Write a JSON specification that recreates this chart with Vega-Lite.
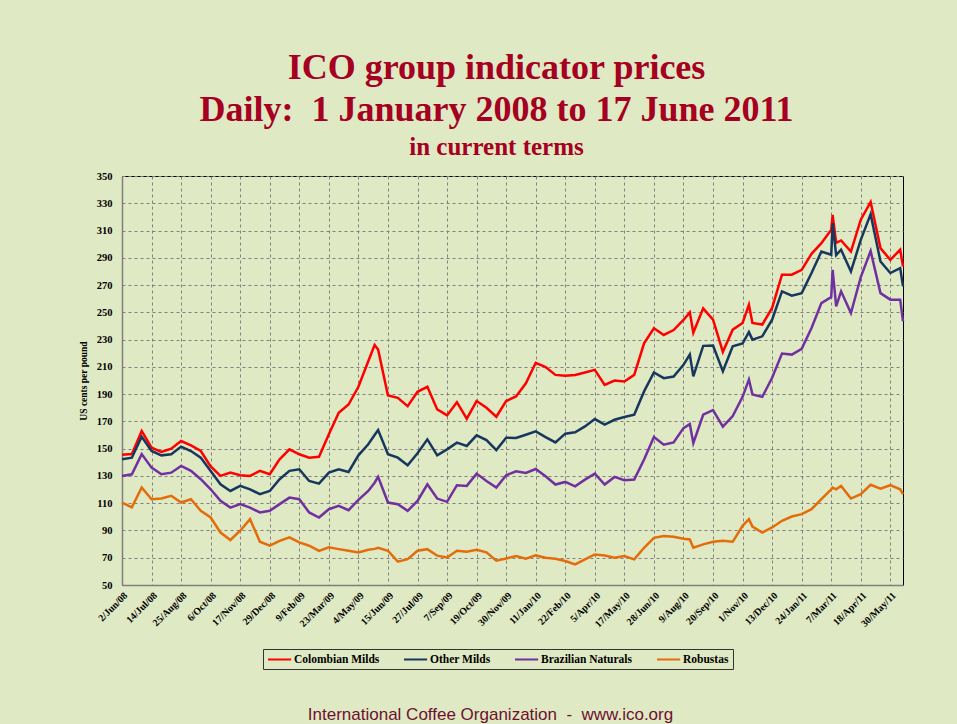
{
  "$schema": "https://vega.github.io/schema/vega-lite/v6.json",
  "width": 781,
  "height": 409,
  "autosize": {"type": "none"},
  "padding": {"left": 122, "top": 176, "right": 54, "bottom": 139},
  "background": "#DFE9C3",
  "title": {
    "text": ["ICO group indicator prices", "Daily:\u00a0\u00a01 January 2008 to 17 June 2011"],
    "subtitle": "in current terms",
    "font": "Liberation Serif",
    "fontSize": 36,
    "fontWeight": "bold",
    "color": "#A50021",
    "lineHeight": 42,
    "subtitleFont": "Liberation Serif",
    "subtitleFontSize": 25,
    "subtitleFontWeight": "bold",
    "subtitleColor": "#A50021",
    "subtitlePadding": 6,
    "anchor": "middle",
    "dx": -16,
    "offset": 10
  },
  "datasets": {
    "colombian": [
      {"d":"2008-06-02","v":145.5},{"d":"2008-06-16","v":146},{"d":"2008-06-30","v":163},{"d":"2008-07-14","v":150.7},{"d":"2008-07-28","v":147.6},{"d":"2008-08-11","v":150},{"d":"2008-08-25","v":155.6},{"d":"2008-09-08","v":152.4},{"d":"2008-09-22","v":148.3},{"d":"2008-10-06","v":137},{"d":"2008-10-20","v":130},{"d":"2008-11-03","v":132.4},{"d":"2008-11-17","v":130.5},{"d":"2008-12-01","v":130},{"d":"2008-12-15","v":133.7},{"d":"2008-12-29","v":131.2},{"d":"2009-01-12","v":142.2},{"d":"2009-01-26","v":149.5},{"d":"2009-02-09","v":145.9},{"d":"2009-02-23","v":143.4},{"d":"2009-03-09","v":144},{"d":"2009-03-23","v":160.5},{"d":"2009-04-06","v":176.3},{"d":"2009-04-20","v":182.4},{"d":"2009-05-04","v":195.4},{"d":"2009-05-18","v":214.1},{"d":"2009-05-27","v":226},{"d":"2009-06-01","v":222.7},{"d":"2009-06-15","v":189},{"d":"2009-06-29","v":187.3},{"d":"2009-07-13","v":181.2},{"d":"2009-07-27","v":191.7},{"d":"2009-08-10","v":195.4},{"d":"2009-08-24","v":178.8},{"d":"2009-09-07","v":174.4},{"d":"2009-09-21","v":184.1},{"d":"2009-10-05","v":172},{"d":"2009-10-19","v":184.9},{"d":"2009-11-02","v":180},{"d":"2009-11-16","v":173.4},{"d":"2009-11-30","v":184.9},{"d":"2009-12-14","v":188.3},{"d":"2009-12-28","v":198},{"d":"2010-01-11","v":213},{"d":"2010-01-25","v":209.8},{"d":"2010-02-08","v":204.1},{"d":"2010-02-22","v":203.4},{"d":"2010-03-08","v":204.1},{"d":"2010-03-22","v":205.9},{"d":"2010-04-05","v":207.8},{"d":"2010-04-19","v":196.8},{"d":"2010-05-03","v":200},{"d":"2010-05-17","v":199.3},{"d":"2010-05-31","v":204.1},{"d":"2010-06-14","v":227.3},{"d":"2010-06-28","v":238.3},{"d":"2010-07-12","v":233.4},{"d":"2010-07-26","v":237},{"d":"2010-08-09","v":244.4},{"d":"2010-08-18","v":250},{"d":"2010-08-23","v":235},{"d":"2010-09-06","v":252.9},{"d":"2010-09-20","v":244.6},{"d":"2010-10-04","v":221},{"d":"2010-10-18","v":237.3},{"d":"2010-11-01","v":242.2},{"d":"2010-11-10","v":255.6},{"d":"2010-11-15","v":242.2},{"d":"2010-11-29","v":241},{"d":"2010-12-13","v":253.2},{"d":"2010-12-27","v":277.6},{"d":"2011-01-10","v":277.6},{"d":"2011-01-24","v":281.2},{"d":"2011-02-07","v":292.9},{"d":"2011-02-21","v":300.7},{"d":"2011-03-07","v":310.5},{"d":"2011-03-09","v":321.5},{"d":"2011-03-14","v":301},{"d":"2011-03-21","v":302.7},{"d":"2011-04-04","v":294.6},{"d":"2011-04-18","v":318},{"d":"2011-05-02","v":331},{"d":"2011-05-16","v":297.1},{"d":"2011-05-30","v":288.5},{"d":"2011-06-13","v":295.9},{"d":"2011-06-17","v":283.7}
    ],
    "other": [
      {"d":"2008-06-02","v":142.2},{"d":"2008-06-16","v":143.4},{"d":"2008-06-30","v":158.8},{"d":"2008-07-14","v":148.3},{"d":"2008-07-28","v":145.1},{"d":"2008-08-11","v":145.9},{"d":"2008-08-25","v":151.5},{"d":"2008-09-08","v":148.3},{"d":"2008-09-22","v":143.4},{"d":"2008-10-06","v":133.7},{"d":"2008-10-20","v":123.9},{"d":"2008-11-03","v":119},{"d":"2008-11-17","v":122.7},{"d":"2008-12-01","v":120.2},{"d":"2008-12-15","v":116.6},{"d":"2008-12-29","v":119},{"d":"2009-01-12","v":127.6},{"d":"2009-01-26","v":133.7},{"d":"2009-02-09","v":134.9},{"d":"2009-02-23","v":126.3},{"d":"2009-03-09","v":124.3},{"d":"2009-03-23","v":132.4},{"d":"2009-04-06","v":134.9},{"d":"2009-04-20","v":132.9},{"d":"2009-05-04","v":145.1},{"d":"2009-05-18","v":153.2},{"d":"2009-05-27","v":160},{"d":"2009-06-01","v":163.7},{"d":"2009-06-15","v":145.9},{"d":"2009-06-29","v":143.4},{"d":"2009-07-13","v":137.8},{"d":"2009-07-27","v":146.6},{"d":"2009-08-10","v":156.8},{"d":"2009-08-24","v":145.1},{"d":"2009-09-07","v":149.5},{"d":"2009-09-21","v":154.4},{"d":"2009-10-05","v":152},{"d":"2009-10-19","v":159.8},{"d":"2009-11-02","v":156.3},{"d":"2009-11-16","v":149},{"d":"2009-11-30","v":158},{"d":"2009-12-14","v":157.8},{"d":"2009-12-28","v":160.2},{"d":"2010-01-11","v":162.7},{"d":"2010-01-25","v":158.5},{"d":"2010-02-08","v":154.6},{"d":"2010-02-22","v":161},{"d":"2010-03-08","v":162},{"d":"2010-03-22","v":166.3},{"d":"2010-04-05","v":171.7},{"d":"2010-04-19","v":167.6},{"d":"2010-05-03","v":171.2},{"d":"2010-05-17","v":173.2},{"d":"2010-05-31","v":174.9},{"d":"2010-06-14","v":192},{"d":"2010-06-28","v":205.9},{"d":"2010-07-12","v":201.7},{"d":"2010-07-26","v":202.9},{"d":"2010-08-09","v":211.5},{"d":"2010-08-18","v":219},{"d":"2010-08-23","v":203},{"d":"2010-09-06","v":225.4},{"d":"2010-09-20","v":225.6},{"d":"2010-10-04","v":206.8},{"d":"2010-10-18","v":225.1},{"d":"2010-11-01","v":227.1},{"d":"2010-11-10","v":235.5},{"d":"2010-11-15","v":230},{"d":"2010-11-29","v":232.4},{"d":"2010-12-13","v":244.6},{"d":"2010-12-27","v":265.4},{"d":"2011-01-10","v":262.2},{"d":"2011-01-24","v":264.1},{"d":"2011-02-07","v":278.8},{"d":"2011-02-21","v":294.6},{"d":"2011-03-07","v":292.2},{"d":"2011-03-09","v":315.4},{"d":"2011-03-14","v":292},{"d":"2011-03-21","v":295.9},{"d":"2011-04-04","v":280},{"d":"2011-04-18","v":303.2},{"d":"2011-05-02","v":322},{"d":"2011-05-16","v":287.3},{"d":"2011-05-30","v":278.8},{"d":"2011-06-13","v":282.4},{"d":"2011-06-17","v":269}
    ],
    "brazilian": [
      {"d":"2008-06-02","v":130},{"d":"2008-06-16","v":131.2},{"d":"2008-06-30","v":146},{"d":"2008-07-14","v":136.1},{"d":"2008-07-28","v":131.2},{"d":"2008-08-11","v":132.4},{"d":"2008-08-25","v":137.3},{"d":"2008-09-08","v":133.7},{"d":"2008-09-22","v":127.6},{"d":"2008-10-06","v":120.2},{"d":"2008-10-20","v":111.7},{"d":"2008-11-03","v":106.8},{"d":"2008-11-17","v":109.3},{"d":"2008-12-01","v":106.8},{"d":"2008-12-15","v":103.2},{"d":"2008-12-29","v":104.4},{"d":"2009-01-12","v":109.3},{"d":"2009-01-26","v":114.1},{"d":"2009-02-09","v":112.9},{"d":"2009-02-23","v":103.2},{"d":"2009-03-09","v":99.5},{"d":"2009-03-23","v":105.6},{"d":"2009-04-06","v":108},{"d":"2009-04-20","v":104.9},{"d":"2009-05-04","v":112.4},{"d":"2009-05-18","v":119},{"d":"2009-05-27","v":125},{"d":"2009-06-01","v":129.3},{"d":"2009-06-15","v":110.5},{"d":"2009-06-29","v":109.3},{"d":"2009-07-13","v":104.4},{"d":"2009-07-27","v":111.7},{"d":"2009-08-10","v":123.9},{"d":"2009-08-24","v":113.4},{"d":"2009-09-07","v":111},{"d":"2009-09-21","v":123.2},{"d":"2009-10-05","v":122.7},{"d":"2009-10-19","v":131.7},{"d":"2009-11-02","v":126.3},{"d":"2009-11-16","v":121.5},{"d":"2009-11-30","v":130.5},{"d":"2009-12-14","v":133.4},{"d":"2009-12-28","v":132.2},{"d":"2010-01-11","v":135.1},{"d":"2010-01-25","v":129.8},{"d":"2010-02-08","v":123.7},{"d":"2010-02-22","v":125.6},{"d":"2010-03-08","v":122.4},{"d":"2010-03-22","v":127.3},{"d":"2010-04-05","v":131.7},{"d":"2010-04-19","v":123.7},{"d":"2010-05-03","v":129.3},{"d":"2010-05-17","v":126.8},{"d":"2010-05-31","v":127.3},{"d":"2010-06-14","v":142},{"d":"2010-06-28","v":158.5},{"d":"2010-07-12","v":152.9},{"d":"2010-07-26","v":154.6},{"d":"2010-08-09","v":165.1},{"d":"2010-08-18","v":168},{"d":"2010-08-23","v":154},{"d":"2010-09-06","v":174.9},{"d":"2010-09-20","v":178.3},{"d":"2010-10-04","v":166.1},{"d":"2010-10-18","v":173.9},{"d":"2010-11-01","v":188},{"d":"2010-11-10","v":200.7},{"d":"2010-11-15","v":189.8},{"d":"2010-11-29","v":188},{"d":"2010-12-13","v":202},{"d":"2010-12-27","v":219.8},{"d":"2011-01-10","v":219},{"d":"2011-01-24","v":223.2},{"d":"2011-02-07","v":238.5},{"d":"2011-02-21","v":256.8},{"d":"2011-03-07","v":261.2},{"d":"2011-03-09","v":281.2},{"d":"2011-03-14","v":254.4},{"d":"2011-03-21","v":265.4},{"d":"2011-04-04","v":249.5},{"d":"2011-04-18","v":275.9},{"d":"2011-05-02","v":295},{"d":"2011-05-16","v":264.1},{"d":"2011-05-30","v":259.3},{"d":"2011-06-13","v":259.3},{"d":"2011-06-17","v":243.4}
    ],
    "robustas": [
      {"d":"2008-06-02","v":110.5},{"d":"2008-06-16","v":107},{"d":"2008-06-30","v":121.5},{"d":"2008-07-14","v":112.9},{"d":"2008-07-28","v":113.4},{"d":"2008-08-11","v":115.4},{"d":"2008-08-25","v":110.5},{"d":"2008-09-08","v":112.9},{"d":"2008-09-22","v":104.4},{"d":"2008-10-06","v":99.5},{"d":"2008-10-20","v":88.5},{"d":"2008-11-03","v":83},{"d":"2008-11-17","v":89.8},{"d":"2008-12-01","v":98.3},{"d":"2008-12-15","v":81.7},{"d":"2008-12-29","v":78.8},{"d":"2009-01-12","v":82.4},{"d":"2009-01-26","v":84.9},{"d":"2009-02-09","v":81.2},{"d":"2009-02-23","v":78.8},{"d":"2009-03-09","v":75},{"d":"2009-03-23","v":77.6},{"d":"2009-04-06","v":76.3},{"d":"2009-04-20","v":75.1},{"d":"2009-05-04","v":73.9},{"d":"2009-05-18","v":75.9},{"d":"2009-05-27","v":76.5},{"d":"2009-06-01","v":77.3},{"d":"2009-06-15","v":75.1},{"d":"2009-06-29","v":67.1},{"d":"2009-07-13","v":69},{"d":"2009-07-27","v":75.1},{"d":"2009-08-10","v":76.3},{"d":"2009-08-24","v":71.5},{"d":"2009-09-07","v":70.2},{"d":"2009-09-21","v":75.1},{"d":"2009-10-05","v":74.4},{"d":"2009-10-19","v":75.9},{"d":"2009-11-02","v":73.9},{"d":"2009-11-16","v":67.8},{"d":"2009-11-30","v":69.5},{"d":"2009-12-14","v":71.2},{"d":"2009-12-28","v":69.3},{"d":"2010-01-11","v":71.7},{"d":"2010-01-25","v":70},{"d":"2010-02-08","v":69.3},{"d":"2010-02-22","v":67.6},{"d":"2010-03-08","v":65.1},{"d":"2010-03-22","v":68.8},{"d":"2010-04-05","v":72.4},{"d":"2010-04-19","v":71.7},{"d":"2010-05-03","v":70},{"d":"2010-05-17","v":71.2},{"d":"2010-05-31","v":68.8},{"d":"2010-06-14","v":77.3},{"d":"2010-06-28","v":84.6},{"d":"2010-07-12","v":85.9},{"d":"2010-07-26","v":85.4},{"d":"2010-08-09","v":83.9},{"d":"2010-08-18","v":83.4},{"d":"2010-08-23","v":77.3},{"d":"2010-09-06","v":79.8},{"d":"2010-09-20","v":81.7},{"d":"2010-10-04","v":82.4},{"d":"2010-10-18","v":81.7},{"d":"2010-11-01","v":93.4},{"d":"2010-11-10","v":98.3},{"d":"2010-11-15","v":92.9},{"d":"2010-11-29","v":88.5},{"d":"2010-12-13","v":92.2},{"d":"2010-12-27","v":97.1},{"d":"2011-01-10","v":100.2},{"d":"2011-01-24","v":102},{"d":"2011-02-07","v":105.6},{"d":"2011-02-21","v":113},{"d":"2011-03-07","v":120.2},{"d":"2011-03-09","v":121.5},{"d":"2011-03-14","v":120.2},{"d":"2011-03-21","v":122.7},{"d":"2011-04-04","v":113.4},{"d":"2011-04-18","v":116.6},{"d":"2011-05-02","v":123.5},{"d":"2011-05-16","v":120.7},{"d":"2011-05-30","v":123.2},{"d":"2011-06-13","v":120.2},{"d":"2011-06-17","v":116.6}
    ]
  },
  "encoding": {
    "x": {
      "field": "d",
      "type": "temporal",
      "scale": {
        "type": "utc",
        "domain": [
          {"year": 2008, "month": 6, "date": 2, "utc": true},
          {"year": 2011, "month": 6, "date": 17, "utc": true}
        ]
      },
      "axis": {
        "values": [
          {"year":2008,"month":6,"date":2,"utc":true},{"year":2008,"month":7,"date":14,"utc":true},{"year":2008,"month":8,"date":25,"utc":true},{"year":2008,"month":10,"date":6,"utc":true},{"year":2008,"month":11,"date":17,"utc":true},{"year":2008,"month":12,"date":29,"utc":true},{"year":2009,"month":2,"date":9,"utc":true},{"year":2009,"month":3,"date":23,"utc":true},{"year":2009,"month":5,"date":4,"utc":true},{"year":2009,"month":6,"date":15,"utc":true},{"year":2009,"month":7,"date":27,"utc":true},{"year":2009,"month":9,"date":7,"utc":true},{"year":2009,"month":10,"date":19,"utc":true},{"year":2009,"month":11,"date":30,"utc":true},{"year":2010,"month":1,"date":11,"utc":true},{"year":2010,"month":2,"date":22,"utc":true},{"year":2010,"month":4,"date":5,"utc":true},{"year":2010,"month":5,"date":17,"utc":true},{"year":2010,"month":6,"date":28,"utc":true},{"year":2010,"month":8,"date":9,"utc":true},{"year":2010,"month":9,"date":20,"utc":true},{"year":2010,"month":11,"date":1,"utc":true},{"year":2010,"month":12,"date":13,"utc":true},{"year":2011,"month":1,"date":24,"utc":true},{"year":2011,"month":3,"date":7,"utc":true},{"year":2011,"month":4,"date":18,"utc":true},{"year":2011,"month":5,"date":30,"utc":true}
        ],
        "format": "%-d/%b/%y",
        "labelAngle": -45,
        "labelFontSize": 10,
        "labelPadding": 5,
        "labelOverlap": false,
        "labelBound": false,
        "labelFlush": false,
        "ticks": false,
        "title": "International Coffee Organization\u00a0 -\u00a0 www.ico.org",
        "titleFont": "Liberation Sans",
        "titleFontSize": 17,
        "titleFontWeight": "normal",
        "titleColor": "#6E1030",
        "titleX": 368,
        "titleY": 134,
        "titleAlign": "center",
        "titleBaseline": "alphabetic",
        "titleAnchor": "start"
      }
    },
    "y": {
      "field": "v",
      "type": "quantitative",
      "scale": {"domain": [50, 350], "nice": false, "zero": false},
      "axis": {
        "values": [50,70,90,110,130,150,170,190,210,230,250,270,290,310,330,350],
        "labelFontSize": 10.5,
        "labelPadding": 10,
        "ticks": false,
        "title": "US cents per pound",
        "titleFont": "Liberation Serif",
        "titleFontSize": 9.5,
        "titleFontWeight": "bold",
        "titleColor": "#000",
        "titlePadding": 8
      }
    }
  },
  "layer": [
    {
      "data": {"name": "colombian"},
      "mark": {"type": "line", "strokeWidth": 2.5},
      "encoding": {
        "color": {
          "datum": "Colombian Milds",
          "scale": {
            "domain": ["Colombian Milds", "Other Milds", "Brazilian Naturals", "Robustas"],
            "range": ["#FF0000", "#17375E", "#7030A0", "#E46C0A"]
          },
          "legend": {
            "orient": "none",
            "legendX": 141,
            "legendY": 473,
            "direction": "horizontal",
            "title": null,
            "strokeColor": "#333333",
            "padding": 4,
            "symbolType": "M-1,0L3.2,0",
            "symbolSize": 121,
            "symbolStrokeWidth": 2,
            "labelFont": "Liberation Serif",
            "labelFontWeight": "bold",
            "labelFontSize": 11.5,
            "labelColor": "#000",
            "labelOffset": 14,
            "columnPadding": 20
          }
        }
      }
    },
    {
      "data": {"name": "other"},
      "mark": {"type": "line", "strokeWidth": 2.5},
      "encoding": {"color": {"datum": "Other Milds"}}
    },
    {
      "data": {"name": "brazilian"},
      "mark": {"type": "line", "strokeWidth": 2.5},
      "encoding": {"color": {"datum": "Brazilian Naturals"}}
    },
    {
      "data": {"name": "robustas"},
      "mark": {"type": "line", "strokeWidth": 2.5},
      "encoding": {"color": {"datum": "Robustas"}}
    }
  ],
  "config": {
    "view": {"stroke": "#000000", "strokeWidth": 1},
    "axis": {
      "labelFont": "Liberation Serif",
      "labelFontWeight": "bold",
      "labelColor": "#000000",
      "gridColor": "#808080",
      "gridDash": [3, 3],
      "gridWidth": 1,
      "gridOpacity": 1,
      "domainColor": "#808080",
      "domainWidth": 1.5
    }
  }
}
